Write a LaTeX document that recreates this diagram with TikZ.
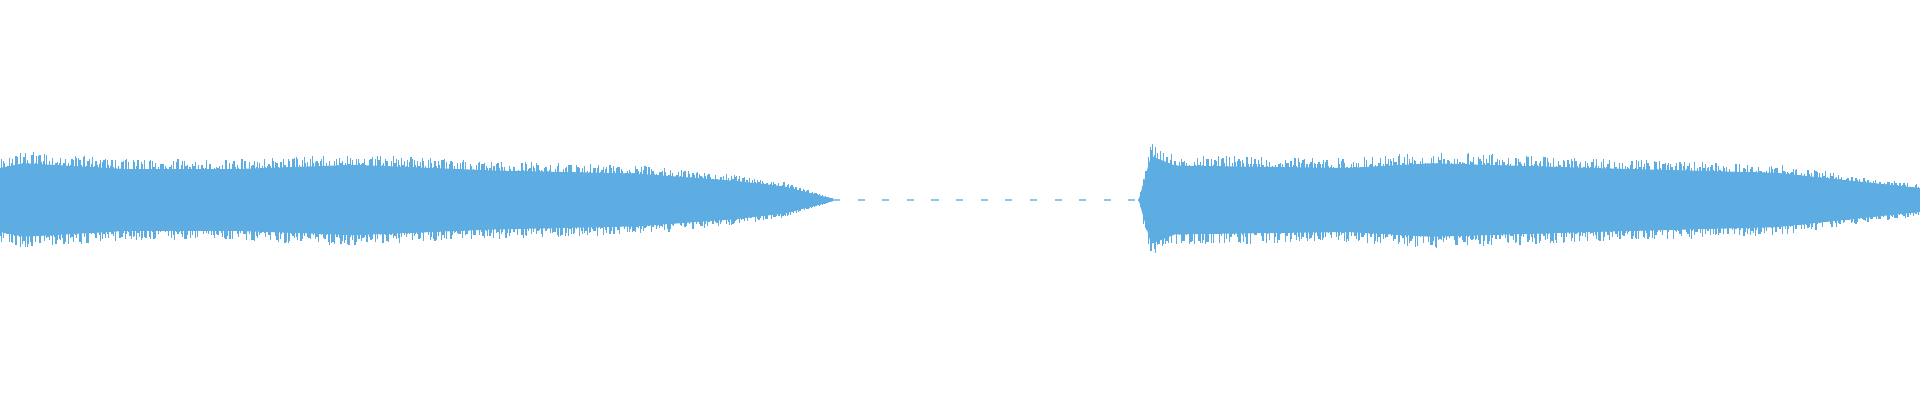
\documentclass[tikz,border=0pt]{standalone}
\definecolor{wave}{RGB}{93,173,226}
\begin{document}
\begin{tikzpicture}[x=0.01cm,y=0.01cm]
\useasboundingbox (0,0) rectangle (1920,400);
\pgfmathsetseed{7}
\draw[wave!70,line width=0.3pt,dash pattern=on 2pt off 5pt] (833,200) -- (1139,200);
\foreach \xa/\aa/\xb/\ab in {0/40/24/46,24/46/122/39,122/39/245/39,245/39/355/44,355/44/490/37,490/37/637/33,637/33/735/24,735/24/784/17,784/17/833/1.5,
 1139/1.5/1151/55,1151/55/1175/43,1175/43/1347/40,1347/40/1432/46,1432/46/1592/40,1592/40/1776/34,1776/34/1920/15}{
  \fill[wave] (\xa,{200+0.8*\aa}) -- (\xb,{200+0.8*\ab}) -- (\xb,{200-0.8*\ab}) -- (\xa,{200-0.8*\aa}) -- cycle;
  \pgfmathsetmacro\xs{\xa+1.6}
  \foreach \x in {\xa,\xs,...,\xb}{
    \pgfmathsetmacro\am{\aa+(\x-\xa)/(\xb-\xa+0.001)*(\ab-\aa)}
    \draw[wave,line width=0.35pt] (\x,{200+\am*(0.75+0.3*rnd)}) -- (\x,{200-\am*(0.75+0.3*rnd)});
  }
}
\end{tikzpicture}
\end{document}
